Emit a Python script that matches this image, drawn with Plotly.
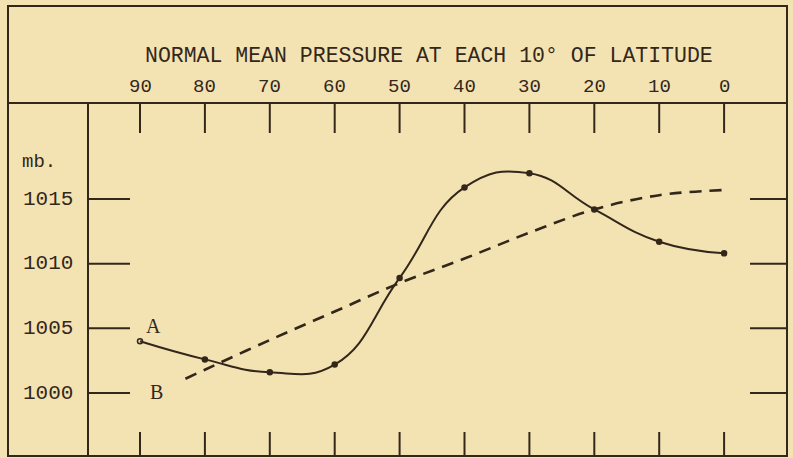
import plotly.graph_objects as go

# ---- data ----
latitudes = [90, 80, 70, 60, 50, 40, 30, 20, 10, 0]
lat_labels = ["90", "80", "70", "60", "50", "40", "30", "20", "10", "0"]
curve_a = [1004.0, 1002.6, 1001.6, 1002.2, 1008.9, 1015.9, 1017.0, 1014.2, 1011.7, 1010.8]
curve_b_lat = [83, 80, 70, 60, 50, 40, 30, 20, 10, 0]
curve_b = [1001.1, 1001.8, 1004.1, 1006.3, 1008.5, 1010.4, 1012.4, 1014.2, 1015.3, 1015.7]
pressure_ticks = [1000, 1005, 1010, 1015]
pressure_labels = ["1000", "1005", "1010", "1015"]
title_text = "NORMAL MEAN PRESSURE AT EACH 10° OF LATITUDE"

W, H = 793, 458
BG = "#f3e3b3"
INK = "#33271a"
FONT = "Liberation Mono"

# pixel mapping -> axis ranges (layout constants)
px_per_deg = 6.49
x90 = 140
xr = [90 + x90 / px_per_deg, 90 - (W - x90) / px_per_deg]
px_per_mb = 12.93
y1000 = 393
yr = [1000 - (H - y1000) / px_per_mb, 1000 + y1000 / px_per_mb]

def px(x):
    return x / W

def py(y):
    return 1 - y / H

fig = go.Figure()

fig.add_trace(go.Scatter(
    x=curve_b_lat, y=curve_b, mode="lines",
    line=dict(color=INK, width=2.6, dash="12px,8px", shape="spline", smoothing=1.0),
    hoverinfo="skip", showlegend=False))

fig.add_trace(go.Scatter(
    x=latitudes, y=curve_a, mode="lines+markers",
    line=dict(color=INK, width=2, shape="spline", smoothing=1.3),
    marker=dict(color=INK, size=5,
                symbol=["circle-open"] + ["circle"] * (len(latitudes) - 1),
                line=dict(color=INK, width=1.5)),
    hoverinfo="skip", showlegend=False))

shapes = []
line_style = dict(color=INK, width=2)
# frame
shapes.append(dict(type="rect", xref="paper", yref="paper",
                   x0=px(8), x1=px(787), y0=py(456), y1=py(6), line=line_style))
shapes.append(dict(type="line", xref="paper", yref="paper",
                   x0=px(8), x1=px(787), y0=py(103), y1=py(103), line=line_style))
shapes.append(dict(type="line", xref="paper", yref="paper",
                   x0=px(88), x1=px(88), y0=py(103), y1=py(456), line=line_style))

annotations = []
for lat, lab in zip(latitudes, lat_labels):
    shapes.append(dict(type="line", xref="x", yref="paper", x0=lat, x1=lat,
                       y0=py(103), y1=py(133), line=line_style))
    shapes.append(dict(type="line", xref="x", yref="paper", x0=lat, x1=lat,
                       y0=py(432), y1=py(456), line=line_style))
    annotations.append(dict(x=lat, y=py(87), xref="x", yref="paper", text=lab,
                            showarrow=False, font=dict(family=FONT, size=19, color=INK),
                            xanchor="center", yanchor="middle"))

for p, lab in zip(pressure_ticks, pressure_labels):
    shapes.append(dict(type="line", xref="paper", yref="y", x0=px(88), x1=px(130),
                       y0=p, y1=p, line=line_style))
    shapes.append(dict(type="line", xref="paper", yref="y", x0=px(750), x1=px(787),
                       y0=p, y1=p, line=line_style))
    annotations.append(dict(x=px(48), y=p, xref="paper", yref="y", text=lab,
                            showarrow=False, font=dict(family=FONT, size=21, color=INK),
                            xanchor="center", yanchor="middle"))

annotations.append(dict(x=px(429), y=py(56), xref="paper", yref="paper", text=title_text,
                        showarrow=False, font=dict(family=FONT, size=21.5, color=INK),
                        xanchor="center", yanchor="middle"))
annotations.append(dict(x=px(39), y=py(162), xref="paper", yref="paper", text="mb.",
                        showarrow=False, font=dict(family=FONT, size=19, color=INK),
                        xanchor="center", yanchor="middle"))
annotations.append(dict(x=px(153), y=py(326), xref="paper", yref="paper", text="A",
                        showarrow=False, font=dict(family="Liberation Serif", size=20, color=INK),
                        xanchor="center", yanchor="middle"))
annotations.append(dict(x=px(156), y=py(392), xref="paper", yref="paper", text="B",
                        showarrow=False, font=dict(family="Liberation Serif", size=20, color=INK),
                        xanchor="center", yanchor="middle"))

fig.update_layout(
    width=W, height=H, margin=dict(l=0, r=0, t=0, b=0),
    paper_bgcolor=BG, plot_bgcolor=BG,
    xaxis=dict(range=xr, visible=False, fixedrange=True),
    yaxis=dict(range=yr, visible=False, fixedrange=True),
    shapes=shapes, annotations=annotations, showlegend=False,
)

fig.write_html("out.html", config={"displayModeBar": False})
